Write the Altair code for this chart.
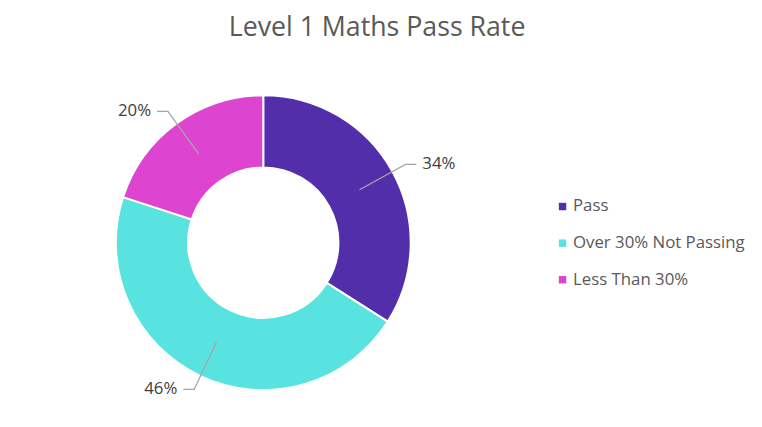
import math

import pandas as pd
import altair as alt


# Slices, clockwise from 12 o'clock
categories = ["Pass", "Over 30% Not Passing", "Less Than 30%"]
shares = [34, 46, 20]
colours = ["#522EAA", "#58E2E0", "#DD44D0"]
labels = ["34%", "46%", "20%"]

df = pd.DataFrame({
    "category": categories,
    "share": shares,
    "label": labels,
    "order": list(range(len(categories))),
})

# mid angle of each slice (radians, clockwise from top)
total = df["share"].sum()
df["mid"] = (df["share"].cumsum() - df["share"] / 2) / total * 2 * math.pi
df["side"] = ["right" if math.sin(a) >= 0 else "left" for a in df["mid"]]

# leader line: from inside the ring out to an elbow, then a short flat tail
R_START, R_ELBOW, TAIL, GAP = 111, 164, 11, 6

line_rows = []
text_rows = []
for _, r in df.iterrows():
    sgn = 1 if r["side"] == "right" else -1
    x0, y0 = R_START * math.sin(r["mid"]), R_START * math.cos(r["mid"])
    x1, y1 = R_ELBOW * math.sin(r["mid"]), R_ELBOW * math.cos(r["mid"])
    x2 = x1 + sgn * TAIL
    for step, (x, y) in enumerate([(x0, y0), (x1, y1), (x2, y1)]):
        line_rows.append({"category": r["category"], "step": step, "x": x, "y": y})
    text_rows.append({"label": r["label"], "side": r["side"], "x": x2 + sgn * GAP, "y": y1})

lines_df = pd.DataFrame(line_rows)
text_df = pd.DataFrame(text_rows)

FONT = "Open Sans"
W = H = 300
xs = alt.Scale(domain=[-W / 2, W / 2], nice=False, zero=False)
ys = alt.Scale(domain=[-H / 2, H / 2], nice=False, zero=False)

donut = alt.Chart(df).mark_arc(
    innerRadius=76, outerRadius=149, stroke="white", strokeWidth=2
).encode(
    theta=alt.Theta("share:Q", stack=True),
    order=alt.Order("order:O"),
    color=alt.Color(
        "category:N",
        scale=alt.Scale(domain=categories, range=colours),
        sort=categories,
        legend=alt.Legend(
            title=None,
            orient="none",
            legendX=444,
            legendY=105,
            symbolType="square",
            symbolSize=56,
            symbolStrokeWidth=0,
            labelFont=FONT,
            labelFontSize=17,
            labelColor="#595959",
            labelOffset=2,
            labelLimit=400,
            rowPadding=19,
        ),
    ),
)

leaders = alt.Chart(lines_df).mark_line(color="#A6A6A6", strokeWidth=1.3).encode(
    x=alt.X("x:Q", scale=xs, axis=None),
    y=alt.Y("y:Q", scale=ys, axis=None),
    detail="category:N",
    order="step:Q",
)

def label_layer(side, align):
    return alt.Chart(text_df).mark_text(
        align=align, baseline="middle", font=FONT, fontSize=17, color="#404040"
    ).encode(
        x=alt.X("x:Q", scale=xs, axis=None),
        y=alt.Y("y:Q", scale=ys, axis=None),
        text="label:N",
    ).transform_filter(alt.datum.side == side)

chart = alt.layer(
    donut, leaders, label_layer("right", "left"), label_layer("left", "right")
).properties(
    width=W,
    height=H,
    title=alt.TitleParams(
        "Level 1 Maths Pass Rate",
        font=FONT,
        fontSize=27,
        fontWeight="normal",
        color="#595959",
        anchor="middle",
        baseline="alphabetic",
        offset=29,
        dx=115,
    ),
    autosize=alt.AutoSizeParams(type="none"),
    padding={"left": 108, "top": 85, "right": 346, "bottom": 19},
).configure_view(stroke=None)

chart.save("out.html", embed_options={"renderer": "svg", "actions": False})
